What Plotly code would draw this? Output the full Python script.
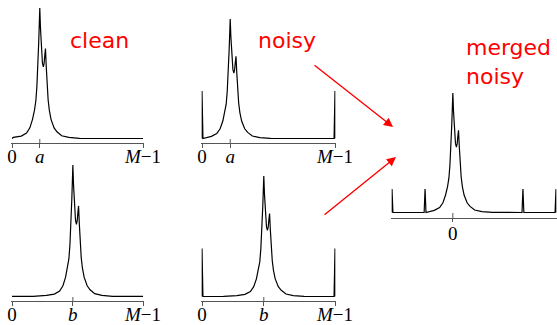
import plotly.graph_objects as go

# ---------------- data ----------------
M = 100                      # number of bins, axis runs 0 .. M-1
a = 21                       # peak position, top row
b = 46                       # peak position, bottom row

# peak profile: offset from peak, relative height
peak_offset = [-30, -20, -14, -10, -7.5, -5.5, -4, -3, -2.2, -1.5, -0.8, -0.3, 0,
               0.5, 1.2, 2.0, 2.7, 3.3, 3.8, 4.3, 4.9, 5.5, 6.3, 7.2, 8.5, 10.8,
               13, 16.5, 22, 30]
peak_height = [0.005, 0.012, 0.022, 0.045, 0.085, 0.15, 0.22, 0.29, 0.40, 0.54, 0.74, 0.90, 1.0,
               0.85, 0.68, 0.58, 0.55, 0.58, 0.64, 0.69, 0.55, 0.42, 0.30, 0.22, 0.15, 0.085,
               0.055, 0.025, 0.012, 0.005]
tail_level = 0.004

noise_spike_height = 0.40    # noisy spectra: spikes at 0 and M-1
merged_spike_height = 0.20   # merged spectrum: spikes halve
merged_lo, merged_hi = -b, M - 1 - a
merged_spike_pos = [-b, -a, M - 1 - b, M - 1 - a]

tick_vals_a = [0, a, M - 1]
tick_vals_b = [0, b, M - 1]
tick_text_a = ["0", "<i>a</i>", "<i>M</i>\u22121"]
tick_text_b = ["0", "<i>b</i>", "<i>M</i>\u22121"]
merged_ticks = [0]
merged_tick_text = ["0"]

labels = {"clean": "clean", "noisy": "noisy", "merged": "merged<br>noisy"}

# ---------------- helpers ----------------
W, H = 557, 325


def spectrum(lo, hi, center, spikes, spike_h):
    pts = []
    w = 0.7
    for sp in spikes:
        if sp <= lo:
            pts += [(lo, tail_level), (lo, spike_h), (lo + w, tail_level)]
        elif sp >= hi:
            pts += [(hi - w, tail_level), (hi, spike_h), (hi, tail_level)]
        else:
            pts += [(sp - w, tail_level), (sp, spike_h), (sp + w, tail_level)]
    if not any(sp <= lo for sp in spikes):
        pts.append((lo, tail_level))
    if not any(sp >= hi for sp in spikes):
        pts.append((hi, tail_level))
    for u, h in zip(peak_offset, peak_height):
        x = center + u
        if lo < x < hi and all(abs(x - sp) > 1.0 for sp in spikes):
            pts.append((x, h))
    pts.sort(key=lambda p: p[0])
    return [p[0] for p in pts], [p[1] for p in pts]


fig = go.Figure()

# panel geometry in pixels: x-range ends, axis line, baseline, peak top, top of area
panels = [
    dict(lo=0, hi=M - 1, xl=12, xr=143, yb=143, base=139, peak=8, yt=2,
         center=a, spikes=[], sh=0, tv=tick_vals_a, tt=tick_text_a, up=a),
    dict(lo=0, hi=M - 1, xl=202, xr=335, yb=143, base=139, peak=19, yt=2,
         center=a, spikes=[0, M - 1], sh=noise_spike_height, tv=tick_vals_a, tt=tick_text_a, up=a),
    dict(lo=0, hi=M - 1, xl=12, xr=143, yb=301, base=297, peak=165, yt=160,
         center=b, spikes=[], sh=0, tv=tick_vals_b, tt=tick_text_b, up=b),
    dict(lo=0, hi=M - 1, xl=202, xr=335, yb=301, base=297, peak=176, yt=160,
         center=b, spikes=[0, M - 1], sh=noise_spike_height, tv=tick_vals_b, tt=tick_text_b, up=b),
    dict(lo=merged_lo, hi=merged_hi, xl=392, xr=556, yb=218, base=213, peak=93, yt=80,
         center=0, spikes=merged_spike_pos, sh=merged_spike_height, tv=merged_ticks,
         tt=merged_tick_text, up=0),
]

axis_color = "#555555"
shapes = []
for i, p in enumerate(panels, start=1):
    xs, ys = spectrum(p["lo"], p["hi"], p["center"], p["spikes"], p["sh"])
    xa = "x" if i == 1 else f"x{i}"
    ya = "y" if i == 1 else f"y{i}"
    fig.add_trace(go.Scatter(x=xs, y=ys, mode="lines", xaxis=xa, yaxis=ya,
                             line=dict(color="black", width=1.2), hoverinfo="skip",
                             showlegend=False))
    pad = 0.4
    sx = (p["xr"] - p["xl"]) / (p["hi"] - p["lo"])
    dl = (p["xl"] - pad * sx) / W
    dr = min(1.0, (p["xr"] + pad * sx) / W)
    sy = p["base"] - p["peak"]
    y0 = -(p["yb"] - p["base"]) / sy
    y1 = y0 + (p["yb"] - p["yt"]) / sy
    merged = i == 5
    xaxis = dict(domain=[dl, dr], range=[p["lo"] - pad, p["hi"] + pad], anchor=ya,
                 automargin=False,
                 showgrid=False, zeroline=False, showline=True, linecolor=axis_color,
                 linewidth=1, ticks="outside", ticklen=3 if merged else 4,
                 tickcolor=axis_color, tickwidth=1,
                 ticklabelstandoff=-5 if merged else -8,
                 tickmode="array", tickvals=p["tv"], ticktext=p["tt"],
                 tickfont=dict(family="Liberation Serif", size=19, color="black"),
                 fixedrange=True)
    yaxis = dict(domain=[1 - p["yb"] / H, 1 - p["yt"] / H], range=[y0, y1], anchor=xa,
                 automargin=False, visible=False, fixedrange=True)
    key = "" if i == 1 else str(i)
    fig.update_layout(**{f"xaxis{key}": xaxis, f"yaxis{key}": yaxis})
    # upward half of the centre tick
    shapes.append(dict(type="line", xref=xa, yref=f"{ya} domain", x0=p["up"], x1=p["up"],
                       y0=0, y1=(5 if merged else 4) / (p["yb"] - p["yt"]),
                       line=dict(color=axis_color, width=1)))

red = "#ff0000"
text_font = dict(family="DejaVu Sans", size=22, color=red)
annotations = [
    dict(text=labels["clean"], x=68 / W, y=1 - 40 / H, xref="paper", yref="paper",
         xanchor="left", yanchor="middle", showarrow=False, font=text_font),
    dict(text=labels["noisy"], x=256 / W, y=1 - 40 / H, xref="paper", yref="paper",
         xanchor="left", yanchor="middle", showarrow=False, font=text_font),
    dict(text=labels["merged"], x=464 / W, y=1 - 62 / H, xref="paper", yref="paper",
         xanchor="left", yanchor="middle", align="left", showarrow=False, font=text_font),
    dict(text="", x=393 / W, y=1 - 127 / H, xref="paper", yref="paper",
         ax=-80, ay=-63, showarrow=True, arrowhead=2, arrowsize=1.3, arrowwidth=1.4,
         arrowcolor=red, standoff=0),
    dict(text="", x=396 / W, y=1 - 157 / H, xref="paper", yref="paper",
         ax=-73, ay=59, showarrow=True, arrowhead=2, arrowsize=1.3, arrowwidth=1.4,
         arrowcolor=red, standoff=0),
]

fig.update_layout(width=W, height=H, margin=dict(l=0, r=0, t=0, b=0, pad=0),
                  paper_bgcolor="white", plot_bgcolor="rgba(0,0,0,0)",
                  shapes=shapes, annotations=annotations, showlegend=False)

fig.write_html("out.html", config={"displayModeBar": False},
               post_script="document.body.style.margin='0';document.body.style.padding='0';"
                           "document.body.style.overflow='hidden';")
